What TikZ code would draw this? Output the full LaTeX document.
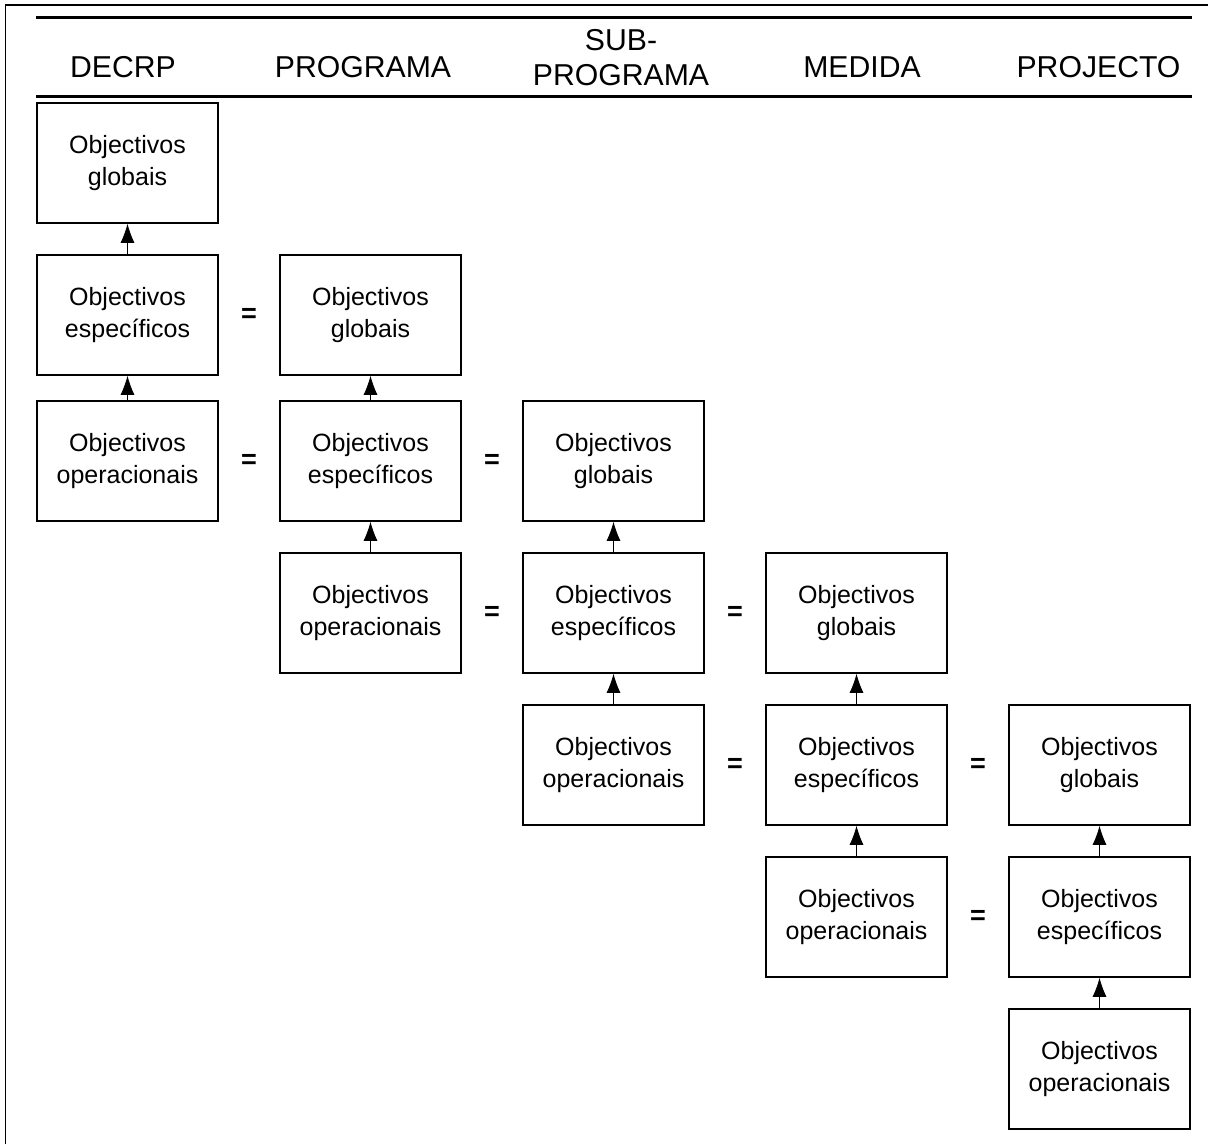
\documentclass[tikz,border=0pt]{standalone}
\usepackage{fontspec}
\setmainfont{Liberation Sans}
\usepackage{tikz}
\usetikzlibrary{arrows.meta,calc}
\tikzset{%
  >={Latex[width=7pt,length=9.5pt]},
  % Specifications for style of nodes:
            base/.style = {rectangle, draw=black, line width=0.8pt,
                           minimum width=90.5pt, minimum height=60pt,
                           text centered, align=center},
             box/.style = {base, font=\fontsize{12.5}{15.9}\selectfont},
            head/.style = {align=center, inner sep=0pt,
                           font=\fontsize{15.1}{17.6}\selectfont},
          eqsign/.style = {inner sep=0pt, font=\fontsize{13.5}{13.5}\selectfont\bfseries}
}
\begin{document}
\begin{tikzpicture}[x=0.5pt, y=0.5pt, node distance=76pt]
  \useasboundingbox (0,0) rectangle (1208,-1144);
  % Frame and header rules
  \draw[line width=0.8pt] (5.5,-1144) -- (5.5,-5) -- (1208,-5);
  \draw[line width=1.2pt] (36,-17.5) -- (1192,-17.5);
  \draw[line width=1.2pt] (36,-96.5) -- (1192,-96.5);

  % Column headers
  \node (hdecrp) [head] at (123,-67.5)    {DECRP};
  \node (hprog)  [head] at (363,-67.5)    {PROGRAMA};
  \node (hsub)   [head] at (621,-58)      {SUB-\\PROGRAMA};
  \node (hmed)   [head] at (862,-67.5)    {MEDIDA};
  \node (hproj)  [head] at (1098.5,-67.5) {PROJECTO};

  % Specification of nodes (position, etc.)
  \node (glob0) [box] at (127.5,-163)                  {Objectivos\\globais};
  \node (espe0) [box, below of=glob0]                  {Objectivos\\específicos};
  \node (oper0) [box, below of=espe0, yshift=3pt]      {Objectivos\\operacionais};

  \node (glob1) [box, right of=espe0, xshift=45.5pt]   {Objectivos\\globais};
  \node (espe1) [box, right of=oper0, xshift=45.5pt]   {Objectivos\\específicos};
  \node (oper1) [box, below of=espe1]                  {Objectivos\\operacionais};

  \node (glob2) [box, right of=espe1, xshift=45.5pt]   {Objectivos\\globais};
  \node (espe2) [box, right of=oper1, xshift=45.5pt]   {Objectivos\\específicos};
  \node (oper2) [box, below of=espe2]                  {Objectivos\\operacionais};

  \node (glob3) [box, right of=espe2, xshift=45.5pt]   {Objectivos\\globais};
  \node (espe3) [box, right of=oper2, xshift=45.5pt]   {Objectivos\\específicos};
  \node (oper3) [box, below of=espe3]                  {Objectivos\\operacionais};

  \node (glob4) [box, right of=espe3, xshift=45.5pt]   {Objectivos\\globais};
  \node (espe4) [box, right of=oper3, xshift=45.5pt]   {Objectivos\\específicos};
  \node (oper4) [box, below of=espe4]                  {Objectivos\\operacionais};

  % Equal signs
  \node (eqa) [eqsign] at ($(espe0)!0.5!(glob1)$) {=};
  \node (eqb) [eqsign] at ($(oper0)!0.5!(espe1)$) {=};
  \node (eqc) [eqsign] at ($(espe1)!0.5!(glob2)$) {=};
  \node (eqd) [eqsign] at ($(oper1)!0.5!(espe2)$) {=};
  \node (eqe) [eqsign] at ($(espe2)!0.5!(glob3)$) {=};
  \node (eqf) [eqsign] at ($(oper2)!0.5!(espe3)$) {=};
  \node (eqg) [eqsign] at ($(espe3)!0.5!(glob4)$) {=};
  \node (eqh) [eqsign] at ($(oper3)!0.5!(espe4)$) {=};

  \draw[->] (espe0) -- (glob0);
  \draw[->] (oper0) -- (espe0);
  \draw[->] (espe1) -- (glob1);
  \draw[->] (oper1) -- (espe1);
  \draw[->] (espe2) -- (glob2);
  \draw[->] (oper2) -- (espe2);
  \draw[->] (espe3) -- (glob3);
  \draw[->] (oper3) -- (espe3);
  \draw[->] (espe4) -- (glob4);
  \draw[->] (oper4) -- (espe4);
\end{tikzpicture}
\end{document}
